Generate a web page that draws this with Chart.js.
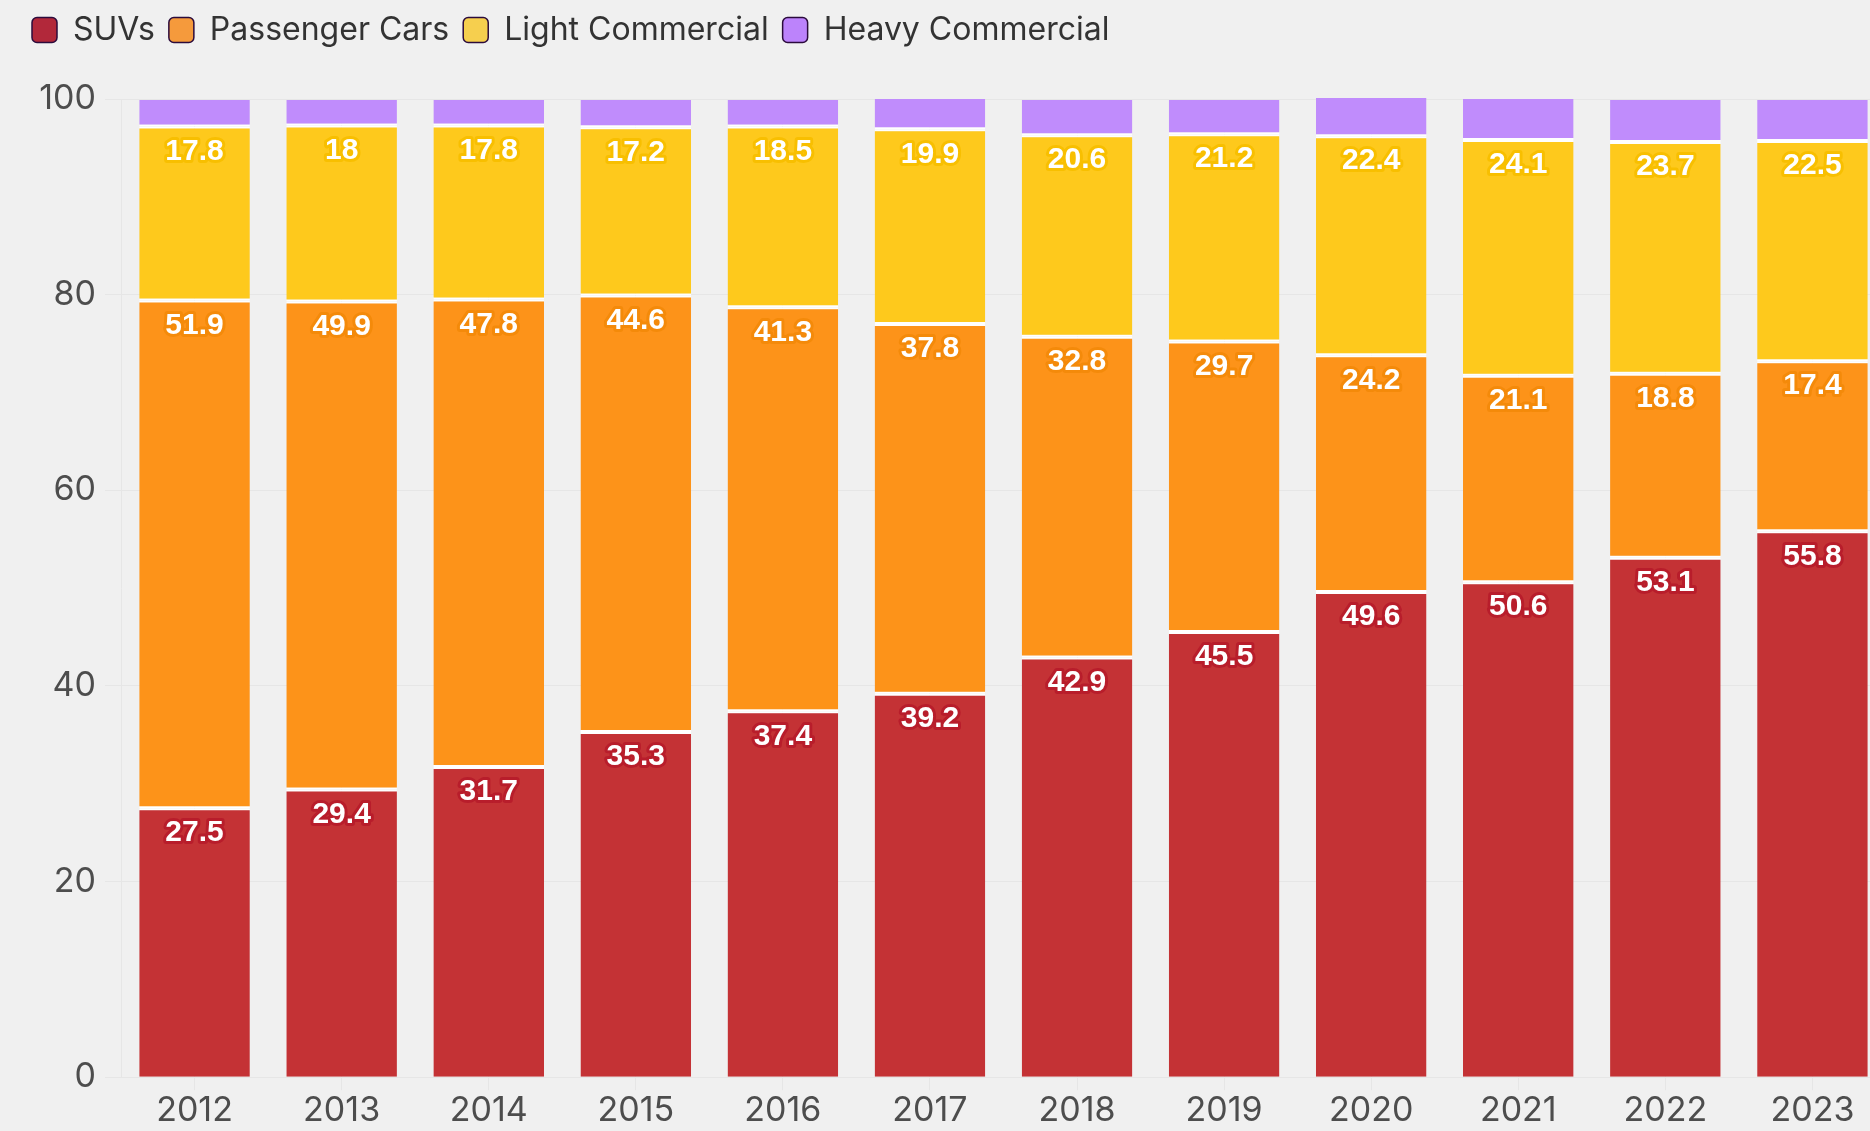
<!DOCTYPE html>
<html>
<head>
<meta charset="utf-8">
<script src="https://cdn.jsdelivr.net/npm/chart.js@4.4.1/dist/chart.umd.min.js"></script>
<style>
  html, body { margin: 0; padding: 0; background: #f0f0f0; overflow: hidden; }
  #wrap { position: absolute; left: 0; top: 0; width: 1888px; height: 1131px; }
</style>
</head>
<body>
<div id="wrap"><canvas id="share-chart"></canvas></div>
<script>
// vehicle share by segment, per year (%)
const years = ['2012', '2013', '2014', '2015', '2016', '2017', '2018', '2019', '2020', '2021', '2022', '2023'];
const suvs = [27.5, 29.4, 31.7, 35.3, 37.4, 39.2, 42.9, 45.5, 49.6, 50.6, 53.1, 55.8];
const passengerCars = [51.9, 49.9, 47.8, 44.6, 41.3, 37.8, 32.8, 29.7, 24.2, 21.1, 18.8, 17.4];
const lightCommercial = [17.8, 18, 17.8, 17.2, 18.5, 19.9, 20.6, 21.2, 22.4, 24.1, 23.7, 22.5];
const heavyCommercial = [2.7, 2.6, 2.6, 2.8, 2.7, 3.1, 3.6, 3.5, 3.9, 4.2, 4.3, 4.2];
const yTicks = [0, 20, 40, 60, 80, 100];

const legendColors = ['#b2283a', '#f59a3c', '#f6cf4e', '#bc83fb'];

// white value labels with coloured outline near the top of each segment
const segmentLabels = {
    id: 'segmentLabels',
    afterDatasetsDraw(chart) {
        const ctx = chart.ctx;
        ctx.save();
        ctx.font = 'bold 30px "Liberation Sans", Arial, sans-serif';
        ctx.textAlign = 'center';
        ctx.textBaseline = 'middle';
        ctx.lineJoin = 'round';
        ctx.lineWidth = 6;
        chart.data.datasets.forEach((ds, i) => {
            if (!ds.labelStroke) return;
            chart.getDatasetMeta(i).data.forEach((bar, j) => {
                const y = bar.y + 25;
                ctx.strokeStyle = ds.labelStroke;
                ctx.strokeText(ds.data[j], bar.x, y);
                ctx.fillStyle = '#ffffff';
                ctx.fillText(ds.data[j], bar.x, y);
            });
        });
        ctx.restore();
    }
};

// extra space under the legend
const legendGap = {
    id: 'legendGap',
    beforeInit(chart) {
        const fit = chart.legend.fit;
        chart.legend.fit = function () {
            fit.bind(chart.legend)();
            this.height += 43;
        };
    }
};

const data = {
    labels: years,
    datasets: [
        {
            label: 'SUVs',
            data: suvs,
            backgroundColor: '#c43235',
            borderColor: '#ffffff',
            borderWidth: { top: 2, bottom: 0, left: 0, right: 0 },
            labelStroke: '#b81d2b'
        },
        {
            label: 'Passenger Cars',
            data: passengerCars,
            backgroundColor: '#fd9319',
            borderColor: '#ffffff',
            borderWidth: { top: 2, bottom: 2, left: 0, right: 0 },
            labelStroke: '#f48a0a'
        },
        {
            label: 'Light Commercial',
            data: lightCommercial,
            backgroundColor: '#fec91c',
            borderColor: '#ffffff',
            borderWidth: { top: 2, bottom: 2, left: 0, right: 0 },
            labelStroke: '#f8bf00'
        },
        {
            label: 'Heavy Commercial',
            data: heavyCommercial,
            backgroundColor: '#c08cfc',
            borderColor: '#ffffff',
            borderWidth: { top: 0, bottom: 2, left: 0, right: 0 }
        }
    ]
};

const config = {
    type: 'bar',
    data: data,
    options: {
        responsive: true,
        maintainAspectRatio: false,
        animation: false,
        layout: { padding: { left: 18, right: 2, top: 0, bottom: 0 } },
        datasets: {
            bar: { barPercentage: 0.94, categoryPercentage: 0.8, borderSkipped: false, clip: false }
        },
        plugins: {
            tooltip: { enabled: false },
            legend: {
                position: 'top',
                align: 'start',
                labels: {
                    font: { family: 'Inter', size: 32 },
                    color: '#333333',
                    boxWidth: 25,
                    boxHeight: 25,
                    padding: 14,
                    useBorderRadius: true,
                    borderRadius: 5,
                    generateLabels(chart) {
                        const items = Chart.defaults.plugins.legend.labels.generateLabels(chart);
                        items.forEach((item, i) => {
                            item.fillStyle = legendColors[i];
                            item.strokeStyle = '#2b0b3c';
                            item.lineWidth = 1.5;
                        });
                        return items;
                    }
                }
            }
        },
        scales: {
            x: {
                stacked: true,
                grid: { color: '#e6e6e6', offset: false, tickLength: 13, drawOnChartArea: true },
                border: { color: '#e6e6e6' },
                ticks: { color: '#4d4d4d', font: { family: 'Inter', size: 34 }, padding: 0, maxRotation: 0 }
            },
            y: {
                stacked: true,
                min: 0,
                max: 100,
                afterBuildTicks(scale) {
                    scale.ticks = yTicks.map(v => ({ value: v }));
                },
                afterFit(scale) { scale.width = 103; },
                grid: { color: '#e6e6e6', tickLength: 16 },
                border: { color: '#e6e6e6' },
                ticks: { color: '#4d4d4d', font: { family: 'Inter', size: 34 }, padding: 9 }
            }
        }
    },
    plugins: [segmentLabels, legendGap]
};

new Chart(document.getElementById('share-chart'), config);
</script>
</body>
</html>
